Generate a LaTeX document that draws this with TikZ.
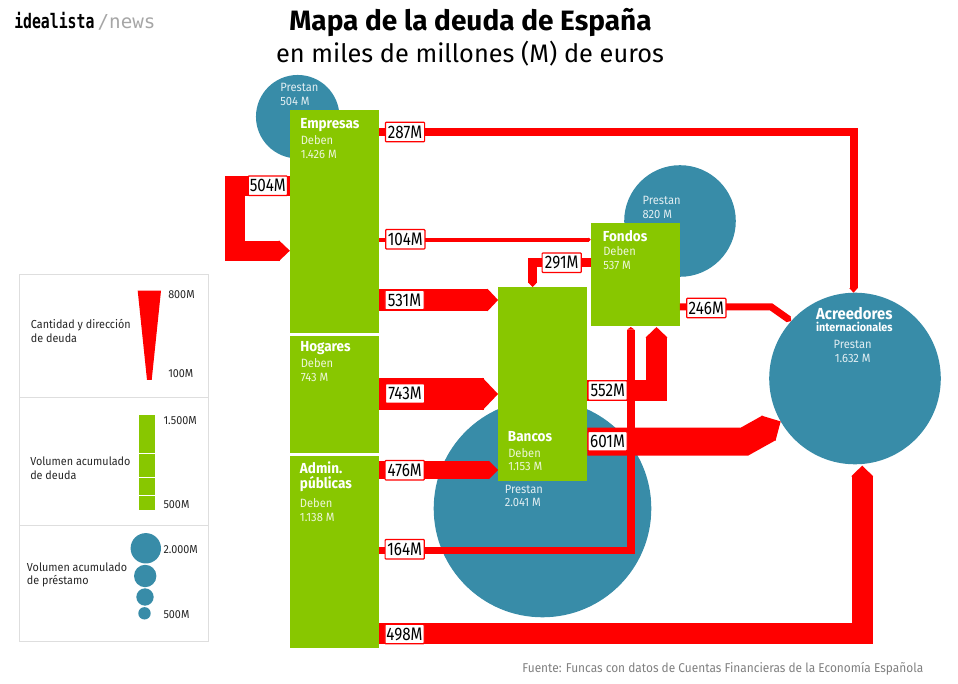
\documentclass[tikz,border=0pt]{standalone}
\usepackage{fontspec}
\setmainfont[FakeStretch=0.93]{Fira Sans}
\newfontfamily\titlefont{Fira Sans}
\newfontfamily\amountfont[FakeStretch=0.84]{Fira Sans}
\newfontfamily\logofont[FakeStretch=0.74]{DejaVu Sans Mono}
\newfontfamily\newsfont{DejaVu Sans Mono}
\usetikzlibrary{arrows.meta, positioning}

\definecolor{debtgreen}{HTML}{88C700}
\definecolor{loanblue}{HTML}{388CA8}
\definecolor{flowred}{HTML}{FF0000}

\tikzset{
  sector/.style={fill=debtgreen, inner sep=0pt, outer sep=0pt, minimum width=66.9pt},
  lender/.style={circle, fill=loanblue, inner sep=0pt, outer sep=0pt},
  flow/.style 2 args={draw=flowred, line width=#1, arrows=-{Triangle[length=#2, width=#1]}},
  amount/.style={draw=flowred, fill=white, line width=0.9pt, rounded corners=0.6pt, inner sep=0pt,
    minimum width=29.4pt, minimum height=14.6pt, font=\amountfont\fontsize{13.6}{15}\selectfont},
  nametext/.style={anchor=base west, inner sep=0pt, text=white, font=\fontsize{10.9}{12}\bfseries\selectfont},
  subtext/.style={anchor=base west, inner sep=0pt, text=white, text opacity=0.85, font=\fontsize{9}{11}\selectfont},
  keytext/.style={anchor=base west, inner sep=0pt, text=black!85, font=\fontsize{8.7}{11}\selectfont},
  keybox/.style={draw=black!13, line width=0.7pt}
}

\begin{document}
\begin{tikzpicture}[x=0.75pt, y=-0.75pt]
\useasboundingbox (0, 0) rectangle (958, 684);

% header and source
\node [anchor=base west, inner sep=0pt, font=\logofont\bfseries\fontsize{15}{17}\selectfont] (logo) at (14, 28.3) {idealista};
\node [right=2pt of logo.base east, anchor=base west, inner sep=0pt, text=black!35, font=\newsfont\fontsize{14.4}{17}\selectfont] (logonews) {/news};
\node [anchor=base, inner sep=0pt, font=\titlefont\fontsize{21}{25}\bfseries\selectfont] (title) at (470.5, 30.7) {Mapa de la deuda de España};
\node [anchor=base, inner sep=0pt, font=\titlefont\fontsize{19}{23}\selectfont] (subtitle) at (470, 62.7) {en miles de millones (M) de euros};
\node [anchor=base east, inner sep=0pt, text=black!50, font=\fontsize{9.6}{11}\selectfont] (source) at (923.5, 672) {Fuente: Funcas con datos de Cuentas Financieras de la Economía Española};

% lenders
\node [lender, minimum size=62.6pt]  (empresasloan) at (297.7, 116.7) {};
\node [lender, minimum size=83.7pt]  (fondosloan)   at (680, 221) {};
\node [lender, minimum size=163.2pt] (bancosloan)   at (542.5, 508.5) {};
\node [lender, minimum size=128.7pt] (acreedores)   at (855, 378.5) {};

% debtors
\node [sector, minimum height=167.3pt] (empresas) at (334.5, 221.5) {};
\node [sector, minimum height=87.8pt]  (hogares)  at (334.5, 394.5) {};
\node [sector, minimum height=144pt]   (admin)    at (334.5, 552) {};
\node [sector, minimum height=145.5pt] (bancos)   at (542.7, 384) {};
\node [sector, minimum height=76.8pt]  (fondos)   at (635.3, 274.5) {};

% flows
\draw [flow={15pt}{8.2pt}] (empresas.west |- 0, 186) -- (235, 186) -- (235, 250.7) -- (empresas.west |- 0, 250.7);
\draw [flow={6pt}{3.4pt}] (empresas.east |- 0, 132) -- (853.5, 132) -- (853.5, 0 |- acreedores.north);
\draw [flow={3pt}{1.5pt}] (empresas.east |- 0, 239.7) -- (fondos.west |- 0, 239.7);
\draw [flow={6.4pt}{3.4pt}] (fondos.west |- 0, 262.3) -- (532.6, 262.3) -- (532.6, 0 |- bancos.north);
\draw [flow={16.5pt}{8pt}] (empresas.east |- 0, 300) -- (bancos.west |- 0, 300);
\draw [flow={23.6pt}{11.6pt}] (hogares.east |- 0, 394) -- (bancos.west |- 0, 394);
\draw [flow={13.5pt}{7pt}] (admin.east |- 0, 470) -- (bancos.west |- 0, 470);
\draw [flow={16pt}{7.9pt}, shorten >=1pt] (bancos.east |- 0, 390.7) -- (656.5, 390.7) -- (656.5, 0 |- fondos.south);
\draw [flow={21pt}{10.5pt}] (bancos.east |- 0, 441.7) -- (744.3, 441.7) -- (acreedores.210.5);
\draw [flow={5.6pt}{2pt}, shorten >=1pt] (admin.east |- 0, 550.3) -- (630.8, 550.3) -- (630.8, 0 |- fondos.south);
\draw [flow={5.3pt}{2.6pt}] (fondos.east |- 0, 306.8) -- (771, 306.8) -- (acreedores.138);
\draw [flow={16pt}{8pt}, shorten >=1pt] (admin.east |- 0, 633.7) -- (862.2, 633.7) -- (862.2, 0 |- acreedores.south);

% amounts
\foreach \nam/\x/\y/\txt in {a504/267.8/185.7/504M, a287/405/132/287M, a104/405.3/239.3/104M,
    a531/404.5/300/531M, a743/405/393.5/743M, a476/404.7/470.3/476M, a164/404.7/549.3/164M,
    a498/404.5/634/498M, a291/561.7/262.7/291M, a552/607.7/390.5/552M, a601/607.5/441.2/601M,
    a246/706.3/308/246M}
  \node [amount] (\nam) at (\x, \y) {\txt};

% texts on the sectors
\node [nametext] (nempresas) at (300, 128.3) {Empresas};
\node [nametext] (nhogares)  at (300, 352) {Hogares};
\node [nametext] (nadmin)    at (299.7, 473.3) {Admin.};
\node [nametext] (nadminb)   at (299.7, 489) {públicas};
\node [nametext] (nbancos)   at (507.7, 441.7) {Bancos};
\node [nametext] (nfondos)   at (602.7, 241.7) {Fondos};
\node [nametext, anchor=base, font=\fontsize{12}{14}\bfseries\selectfont] (nacreedores) at (854.3, 319.3) {Acreedores};
\node [nametext, anchor=base, font=\fontsize{8.7}{10}\bfseries\selectfont] (ninter) at (854.3, 331.7) {internacionales};
\foreach \nam/\x/\y/\txt in {s1/300.5/145/Deben, s2/300.5/159/1.426 M, s3/300.5/368/Deben, s4/300.5/382/743 M,
    s5/299.7/508/Deben, s6/299.7/521.7/1.138 M, s7/508/457.3/Deben, s8/508/471/1.153 M,
    s9/603/256/Deben, s10/603/270/537 M, s11/280/92/Prestan, s12/280/105.7/504 M,
    s13/642.3/205/Prestan, s14/642.3/218.3/820 M, s15/504.5/493.3/Prestan, s16/504.5/506.7/2.041 M}
  \node [subtext] (\nam) at (\x, \y) {\txt};
\node [subtext, anchor=base] (s17) at (852.7, 349) {Prestan};
\node [subtext, anchor=base] (s18) at (852.7, 362.3) {1.632 M};

% key
\draw [keybox] (19.3, 274.3) rectangle (208.3, 397.7);
\draw [keybox] (19.3, 397.7) rectangle (208.3, 525.3);
\draw [keybox] (19.3, 525.3) rectangle (208.3, 641.7);
\fill [flowred] (137.7, 290.7) -- (161, 290.7) -- (151.7, 380) -- (147, 380) -- cycle;
\foreach \top/\bot in {415/452.7, 453.7/476.7, 477.7/495.3, 496.3/510}
  \fill [debtgreen] (139, \top) rectangle (155.3, \bot);
\foreach \nam/\x/\y/\size in {k1/145.8/548.3/22.8pt, k2/145.2/576/16.8pt, k3/145/597/13pt, k4/144.5/613.3/9.3pt}
  \node [lender, minimum size=\size] (\nam) at (\x, \y) {};
\foreach \nam/\x/\y/\txt in {t1/168/298.3/800M, t2/168/377.7/100M, t3/163.3/425/1.500M, t4/163.3/509/500M,
    t5/163.3/554/2.000M, t6/163.3/618.3/500M, t7/30.7/328.3/Cantidad y dirección, t8/30.7/342.3/de deuda,
    t9/30/466/Volumen acumulado, t10/30/479.7/de deuda, t11/26.7/571/Volumen acumulado, t12/26.7/584.3/de préstamo}
  \node [keytext] (\nam) at (\x, \y) {\txt};
\end{tikzpicture}
\end{document}
